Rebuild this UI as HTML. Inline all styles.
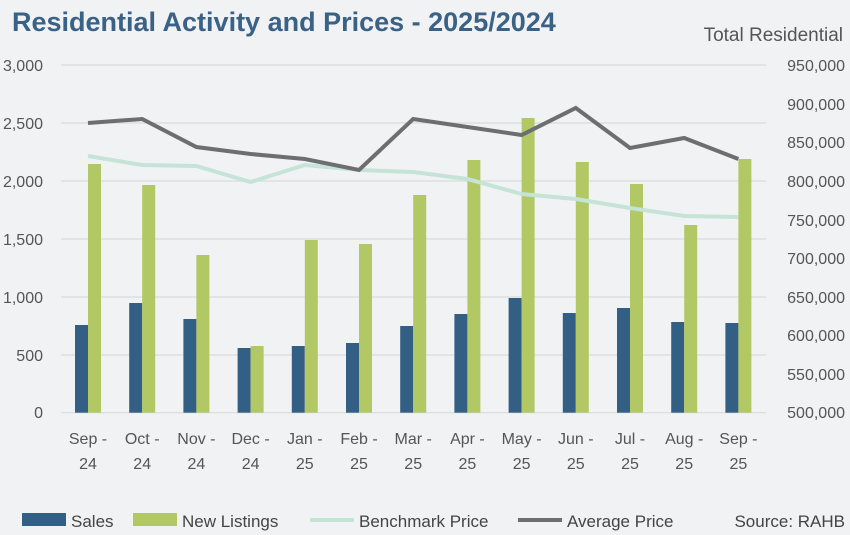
<!DOCTYPE html>
<html><head><meta charset="utf-8"><style>
body{margin:0;background:#f1f2f4;}
svg{display:block;font-family:"Liberation Sans",sans-serif;}
</style></head><body>
<svg width="850" height="535" viewBox="0 0 850 535" xmlns="http://www.w3.org/2000/svg">
<rect width="850" height="535" fill="#f1f2f4"/>
<text x="12" y="31" font-size="27" font-weight="bold" fill="#3a6186">Residential Activity and Prices - 2025/2024</text>
<text x="843" y="41" font-size="19" fill="#555" text-anchor="end">Total Residential</text>
<g stroke="#d9dadc" stroke-width="1.2">
<line x1="61" x2="766" y1="65" y2="65"/><line x1="61" x2="766" y1="123" y2="123"/>
<line x1="61" x2="766" y1="181" y2="181"/><line x1="61" x2="766" y1="239" y2="239"/>
<line x1="61" x2="766" y1="297" y2="297"/><line x1="61" x2="766" y1="355" y2="355"/>
<line x1="61" x2="766" y1="412.7" y2="412.7"/>
</g>
<g font-size="16" fill="#555" text-anchor="end">
<text x="43" y="71">3,000</text><text x="43" y="129">2,500</text><text x="43" y="187">2,000</text>
<text x="43" y="245">1,500</text><text x="43" y="303">1,000</text><text x="43" y="361">500</text><text x="43" y="418">0</text>
</g>
<g font-size="16" fill="#555" text-anchor="end">
<text x="845" y="71">950,000</text><text x="845" y="110">900,000</text><text x="845" y="148">850,000</text>
<text x="845" y="187">800,000</text><text x="845" y="226">750,000</text><text x="845" y="264">700,000</text>
<text x="845" y="303">650,000</text><text x="845" y="341">600,000</text><text x="845" y="380">550,000</text><text x="845" y="418">500,000</text>
</g>
<g fill="#335f85">
<rect x="75" y="325" width="13" height="87.7"/>
<rect x="129.2" y="303" width="13" height="109.7"/>
<rect x="183.4" y="319" width="13" height="93.7"/>
<rect x="237.6" y="348" width="13" height="64.7"/>
<rect x="291.8" y="346" width="13" height="66.7"/>
<rect x="346" y="343" width="13" height="69.7"/>
<rect x="400.2" y="326" width="13" height="86.7"/>
<rect x="454.4" y="314" width="13" height="98.7"/>
<rect x="508.6" y="298" width="13" height="114.7"/>
<rect x="562.8" y="313" width="13" height="99.7"/>
<rect x="617" y="308" width="13" height="104.7"/>
<rect x="671.2" y="322" width="13" height="90.7"/>
<rect x="725.4" y="323" width="13" height="89.7"/>
</g>
<g fill="#b1c865">
<rect x="88" y="164" width="13" height="248.7"/>
<rect x="142.2" y="185" width="13" height="227.7"/>
<rect x="196.4" y="255" width="13" height="157.7"/>
<rect x="250.6" y="346" width="13" height="66.7"/>
<rect x="304.8" y="240" width="13" height="172.7"/>
<rect x="359" y="244" width="13" height="168.7"/>
<rect x="413.2" y="195" width="13" height="217.7"/>
<rect x="467.4" y="160" width="13" height="252.7"/>
<rect x="521.6" y="118" width="13" height="294.7"/>
<rect x="575.8" y="162" width="13" height="250.7"/>
<rect x="630" y="184" width="13" height="228.7"/>
<rect x="684.2" y="225" width="13" height="187.7"/>
<rect x="738.4" y="159" width="13" height="253.7"/>
</g>
<polyline fill="none" stroke="#c6e3d7" stroke-width="4" points="88,156 142.2,165 196.4,166 250.6,182 304.8,165 359,170 413.2,172 467.4,179 521.6,194 575.8,199 630,208 684.2,216 738.4,217"/>
<polyline fill="none" stroke="#6d6e70" stroke-width="4" points="88,123 142.2,119 196.4,147 250.6,154 304.8,159 359,170 413.2,119 467.4,127 521.6,135 575.8,108 630,148 684.2,138 738.4,159"/>
<g font-size="16" fill="#555" text-anchor="middle">
<text x="88" y="444">Sep -</text><text x="88" y="469">24</text>
<text x="142.2" y="444">Oct -</text><text x="142.2" y="469">24</text>
<text x="196.4" y="444">Nov -</text><text x="196.4" y="469">24</text>
<text x="250.6" y="444">Dec -</text><text x="250.6" y="469">24</text>
<text x="304.8" y="444">Jan -</text><text x="304.8" y="469">25</text>
<text x="359" y="444">Feb -</text><text x="359" y="469">25</text>
<text x="413.2" y="444">Mar -</text><text x="413.2" y="469">25</text>
<text x="467.4" y="444">Apr -</text><text x="467.4" y="469">25</text>
<text x="521.6" y="444">May -</text><text x="521.6" y="469">25</text>
<text x="575.8" y="444">Jun -</text><text x="575.8" y="469">25</text>
<text x="630" y="444">Jul -</text><text x="630" y="469">25</text>
<text x="684.2" y="444">Aug -</text><text x="684.2" y="469">25</text>
<text x="738.4" y="444">Sep -</text><text x="738.4" y="469">25</text>
</g>
<g font-size="17" fill="#444">
<rect x="22" y="513" width="44" height="13" fill="#335f85"/><text x="71" y="527">Sales</text>
<rect x="133" y="513" width="44" height="13" fill="#b1c865"/><text x="182" y="527">New Listings</text>
<line x1="310" x2="354" y1="520" y2="520" stroke="#c6e3d7" stroke-width="4"/><text x="359" y="527">Benchmark Price</text>
<line x1="518" x2="562" y1="520" y2="520" stroke="#6d6e70" stroke-width="4"/><text x="567" y="527">Average Price</text>
<text x="845" y="527" text-anchor="end">Source: RAHB</text>
</g>
</svg>
</body></html>
